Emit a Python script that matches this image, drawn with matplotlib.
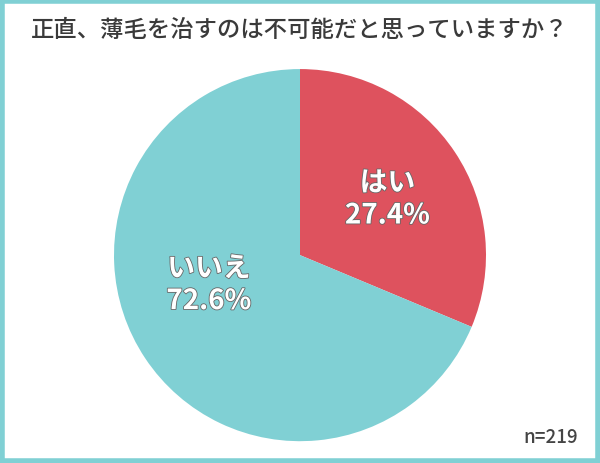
import matplotlib
matplotlib.use("Agg")
import matplotlib.pyplot as plt
import matplotlib.patheffects as pe
from matplotlib.patches import Rectangle

plt.rcParams['font.family'] = ['Noto Sans CJK JP', 'DejaVu Sans']

title = "正直、薄毛を治すのは不可能だと思っていますか？"
labels = ["はい", "いいえ"]
percents = [27.4, 72.6]          # printed on the chart
slice_shares = [31.3, 68.7]      # slice sizes as drawn in the picture
colors = ["#de525e", "#80d0d4"]
n_text = "n=219"

fig = plt.figure(figsize=(6, 4.64), dpi=100)

# teal frame round the whole picture
fig.patches.append(Rectangle((0.003, 0.004), 0.994, 0.992, transform=fig.transFigure,
                             fill=False, edgecolor="#80d0d4", linewidth=4))

fig.text(0.5, 0.935, title, ha="center", va="center", fontsize=16.8, color="#3a3a3a",
         fontweight="medium")
fig.text(0.917, 0.058, n_text, ha="center", va="center", fontsize=13.5, color="#444444",
         fontweight="medium")

ax = fig.add_axes([0.19, 0.047, 0.62, 0.802])
wedges, _ = ax.pie(slice_shares, colors=colors, startangle=90, counterclock=False,
                   wedgeprops=dict(linewidth=0))
ax.set_aspect("auto")
ax.set_xlim(-1, 1)
ax.set_ylim(-1, 1)

# labels placed inside each slice
label_pos = [(0.47, 0.30), (-0.49, -0.16)]
for (x, y), lab, v in zip(label_pos, labels, percents):
    ax.text(x, y, f"{lab}\n{v}%", ha="center", va="center", fontsize=20,
            fontweight="bold", color="white", linespacing=1.2,
            path_effects=[pe.withStroke(linewidth=1.2, foreground="#666666")])

fig.savefig("out.png", dpi=100)
